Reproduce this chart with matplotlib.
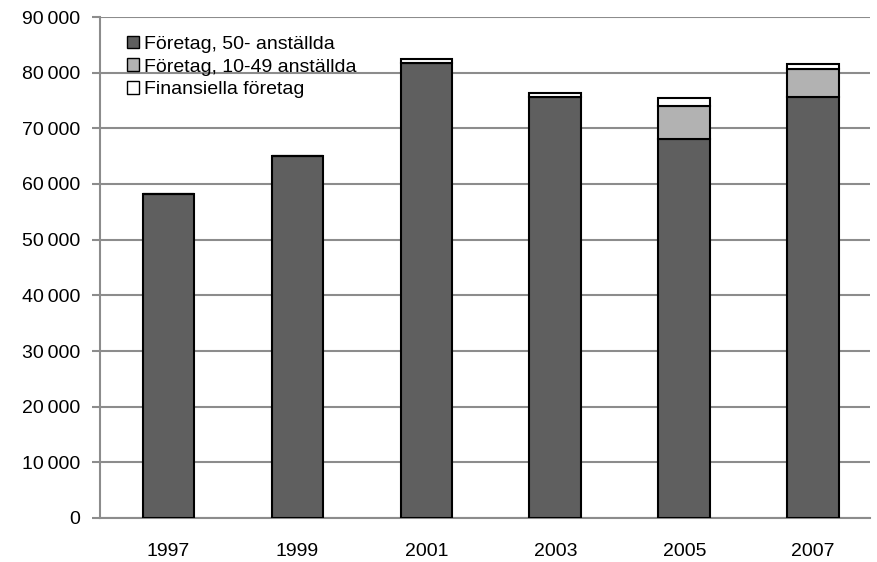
import numpy as np
import matplotlib.pyplot as plt
from matplotlib.ticker import FuncFormatter

plt.rcParams['font.family'] = ['Liberation Sans', 'DejaVu Sans']

# Värden
years = ['1997', '1999', '2001', '2003', '2005', '2007']
stora = [58200, 65000, 81700, 75700, 68100, 75700]
medel = [0, 0, 0, 0, 6000, 5000]
finans = [0, 0, 700, 700, 1300, 800]
labels = ['Företag, 50- anställda', 'Företag, 10-49 anställda', 'Finansiella företag']
colors = ['#5f5f5f', '#b2b2b2', '#ffffff']

fig = plt.figure(figsize=(8.78, 5.62), dpi=100)
ax = fig.add_axes([100 / 878, 44 / 562, 770 / 878, 501 / 562])

x = np.arange(len(years))
bottom = np.zeros(len(years))
for vals, lab, col in zip([stora, medel, finans], labels, colors):
    ax.bar(x, vals, 0.4, bottom=bottom, color=col, edgecolor='black',
           linewidth=1.5, label=lab, zorder=3)
    bottom += np.array(vals)

ax.set_ylim(0, 90000)
ax.set_xlim(-0.53, 5.44)
ax.set_yticks(np.arange(0, 90001, 10000))
ax.yaxis.set_major_formatter(FuncFormatter(lambda v, p: f'{int(v):,}'.replace(',', '\u2009')))
ax.set_xticks(x)
ax.set_xticklabels(years)
ax.grid(axis='y', color='#8c8c8c', linewidth=1.5, zorder=0)

for s in ['top', 'right']:
    ax.spines[s].set_visible(False)
for s in ['left', 'bottom']:
    ax.spines[s].set_color('#8c8c8c')
    ax.spines[s].set_linewidth(1.5)
ax.tick_params(axis='y', length=6, color='#8c8c8c', width=1.5, labelsize=14, pad=8)
ax.tick_params(axis='x', length=0, labelsize=14, pad=18)

leg = ax.legend(loc='upper left', bbox_to_anchor=(0.018, 0.99), frameon=False,
                fontsize=14, handlelength=0.6, handleheight=0.6, handletextpad=0.25,
                labelspacing=0.3, borderpad=0.2)
for h in leg.legend_handles:
    h.set_linewidth(1)

fig.savefig('out.png', dpi=100)
